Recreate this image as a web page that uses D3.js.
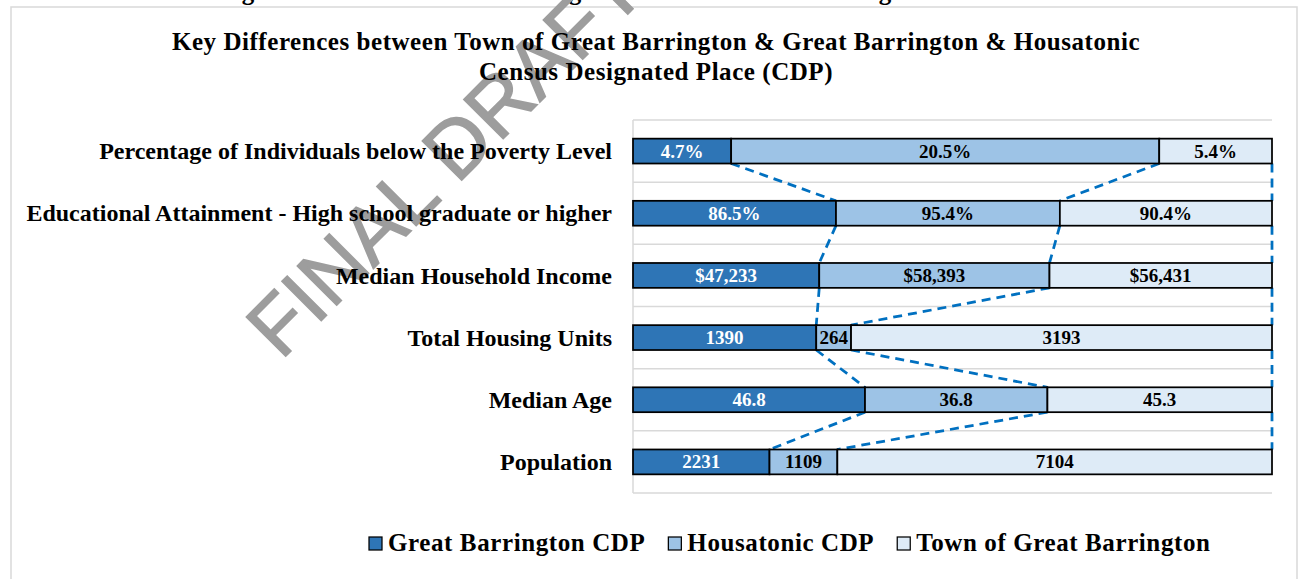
<!DOCTYPE html>
<html>
<head>
<meta charset="utf-8">
<script src="https://cdn.jsdelivr.net/npm/d3@7"></script>
<style>
  html, body { margin: 0; padding: 0; background: #fff; }
  svg { display: block; }
</style>
</head>
<body>
<div id="chart"></div>
<script>
// categories listed top to bottom as shown
const categories = [
  "Percentage of Individuals below the Poverty Level",
  "Educational Attainment - High school graduate or higher",
  "Median Household Income",
  "Total Housing Units",
  "Median Age",
  "Population"
];
const seriesNames = ["Great Barrington CDP", "Housatonic CDP", "Town of Great Barrington"];
const greatBarringtonCDP = [4.7, 86.5, 47233, 1390, 46.8, 2231];
const housatonicCDP = [20.5, 95.4, 58393, 264, 36.8, 1109];
const townOfGreatBarrington = [5.4, 90.4, 56431, 3193, 45.3, 7104];
const units = ["%", "%", "$", "", "", ""];

const W = 1301, H = 579;
const colors = ["#2E75B6", "#9DC3E6", "#DEEBF7"];
const serif = "'Liberation Serif', 'Times New Roman', serif";

const rows = categories.map((c, i) => ({
  cat: c,
  [seriesNames[0]]: greatBarringtonCDP[i],
  [seriesNames[1]]: housatonicCDP[i],
  [seriesNames[2]]: townOfGreatBarrington[i],
  unit: units[i]
}));

const stacked = d3.stack().keys(seriesNames).offset(d3.stackOffsetExpand)(rows);

const svg = d3.select("#chart").append("svg")
  .attr("width", W)
  .attr("height", H);

svg.append("rect").attr("width", W).attr("height", H).attr("fill", "#fff");

// bits of the heading cut off above the chart
svg.selectAll(".cut")
  .data([248, 575, 885])
  .join("text")
  .attr("x", d => d)
  .attr("y", 0)
  .attr("text-anchor", "middle")
  .style("font-family", serif)
  .style("font-weight", "bold")
  .style("font-size", "25px")
  .text("g");

// chart area border
svg.append("rect")
  .attr("x", 11).attr("y", 7)
  .attr("width", 1286).attr("height", 640)
  .attr("fill", "none")
  .attr("stroke", "#d9d9d9")
  .attr("stroke-width", 1.5);

// watermark
svg.append("text")
  .attr("transform", "translate(281,361) rotate(-45)")
  .style("font-family", "'Liberation Sans', Arial, sans-serif")
  .style("font-size", "81px")
  .attr("fill", "#9d9d9d")
  .attr("stroke", "#9d9d9d")
  .attr("stroke-width", 1.5)
  .text("FINAL DRAFT");

const x = d3.scaleLinear().domain([0, 1]).range([633, 1272]);
const y = d3.scaleBand().domain(categories).range([120, 493]).paddingInner(0.6).paddingOuter(0.3);
const gap = (y.step() - y.bandwidth()) / 2;

// gridlines at category boundaries
const bounds = categories.map(c => y(c) - gap).concat([y(categories[categories.length - 1]) + y.bandwidth() + gap]);
svg.append("g")
  .selectAll("line")
  .data(bounds)
  .join("line")
  .attr("x1", x(0)).attr("x2", x(1))
  .attr("y1", d => d).attr("y2", d => d)
  .attr("stroke", "#d9d9d9")
  .attr("stroke-width", 1.5);

svg.append("line")
  .attr("x1", x(0)).attr("x2", x(0))
  .attr("y1", bounds[0]).attr("y2", bounds[bounds.length - 1])
  .attr("stroke", "#d9d9d9")
  .attr("stroke-width", 1.5);

// series lines
const seriesLines = [];
stacked.forEach(s => {
  for (let i = 0; i < categories.length - 1; i++) {
    seriesLines.push({
      x1: x(s[i][1]), y1: y(categories[i]) + y.bandwidth(),
      x2: x(s[i + 1][1]), y2: y(categories[i + 1])
    });
  }
});
svg.append("g")
  .selectAll("line")
  .data(seriesLines)
  .join("line")
  .attr("x1", d => d.x1).attr("y1", d => d.y1)
  .attr("x2", d => d.x2).attr("y2", d => d.y2)
  .attr("stroke", "#0070C0")
  .attr("stroke-width", 2.75)
  .attr("stroke-dasharray", "9,6");

// bars
const fmt = (v, unit) => {
  if (unit === "$") return "$" + d3.format(",")(v);
  if (unit === "%") return v.toFixed(1) + "%";
  return Number.isInteger(v) ? String(v) : v.toFixed(1);
};

const layer = svg.append("g")
  .selectAll("g")
  .data(stacked)
  .join("g")
  .attr("fill", (d, i) => colors[i]);

layer.selectAll("rect")
  .data(d => d)
  .join("rect")
  .attr("x", d => x(d[0]))
  .attr("y", d => y(d.data.cat))
  .attr("width", d => x(d[1]) - x(d[0]))
  .attr("height", y.bandwidth())
  .attr("stroke", "#000")
  .attr("stroke-width", 1.75);

layer.selectAll("text")
  .data((d, i) => d.map(p => ({ p, key: d.key, si: i })))
  .join("text")
  .attr("x", d => (x(d.p[0]) + x(d.p[1])) / 2)
  .attr("y", d => y(d.p.data.cat) + y.bandwidth() / 2)
  .attr("dy", "0.34em")
  .attr("text-anchor", "middle")
  .attr("fill", d => d.si === 0 ? "#fff" : "#000")
  .style("font-family", serif)
  .style("font-weight", "bold")
  .style("font-size", "19px")
  .text(d => fmt(d.p.data[d.key], d.p.data.unit));

// category labels
svg.append("g")
  .selectAll("text")
  .data(categories)
  .join("text")
  .attr("x", 612)
  .attr("y", d => y(d) + y.bandwidth() / 2)
  .attr("dy", "0.34em")
  .attr("text-anchor", "end")
  .style("font-family", serif)
  .style("font-weight", "bold")
  .style("font-size", "24px")
  .text(d => d);

// title
const title = svg.append("text")
  .attr("text-anchor", "middle")
  .style("font-family", serif)
  .style("font-weight", "bold")
  .style("font-size", "25px")
  .style("letter-spacing", "0.55px");
title.append("tspan").attr("x", 656).attr("y", 50)
  .text("Key Differences between Town of Great Barrington & Great Barrington & Housatonic");
title.append("tspan").attr("x", 656).attr("y", 80)
  .text("Census Designated Place (CDP)");

// legend
let lx = 369;
seriesNames.forEach((name, i) => {
  svg.append("rect")
    .attr("x", lx).attr("y", 537)
    .attr("width", 13).attr("height", 13)
    .attr("fill", colors[i])
    .attr("stroke", "#000")
    .attr("stroke-width", 1.25);
  const t = svg.append("text")
    .attr("x", lx + 19).attr("y", 551)
    .style("font-family", serif)
    .style("font-weight", "bold")
    .style("font-size", "25px")
    .style("letter-spacing", "0.6px")
    .text(name);
  lx += 19 + t.node().getComputedTextLength() + 23;
});
</script>
</body>
</html>
